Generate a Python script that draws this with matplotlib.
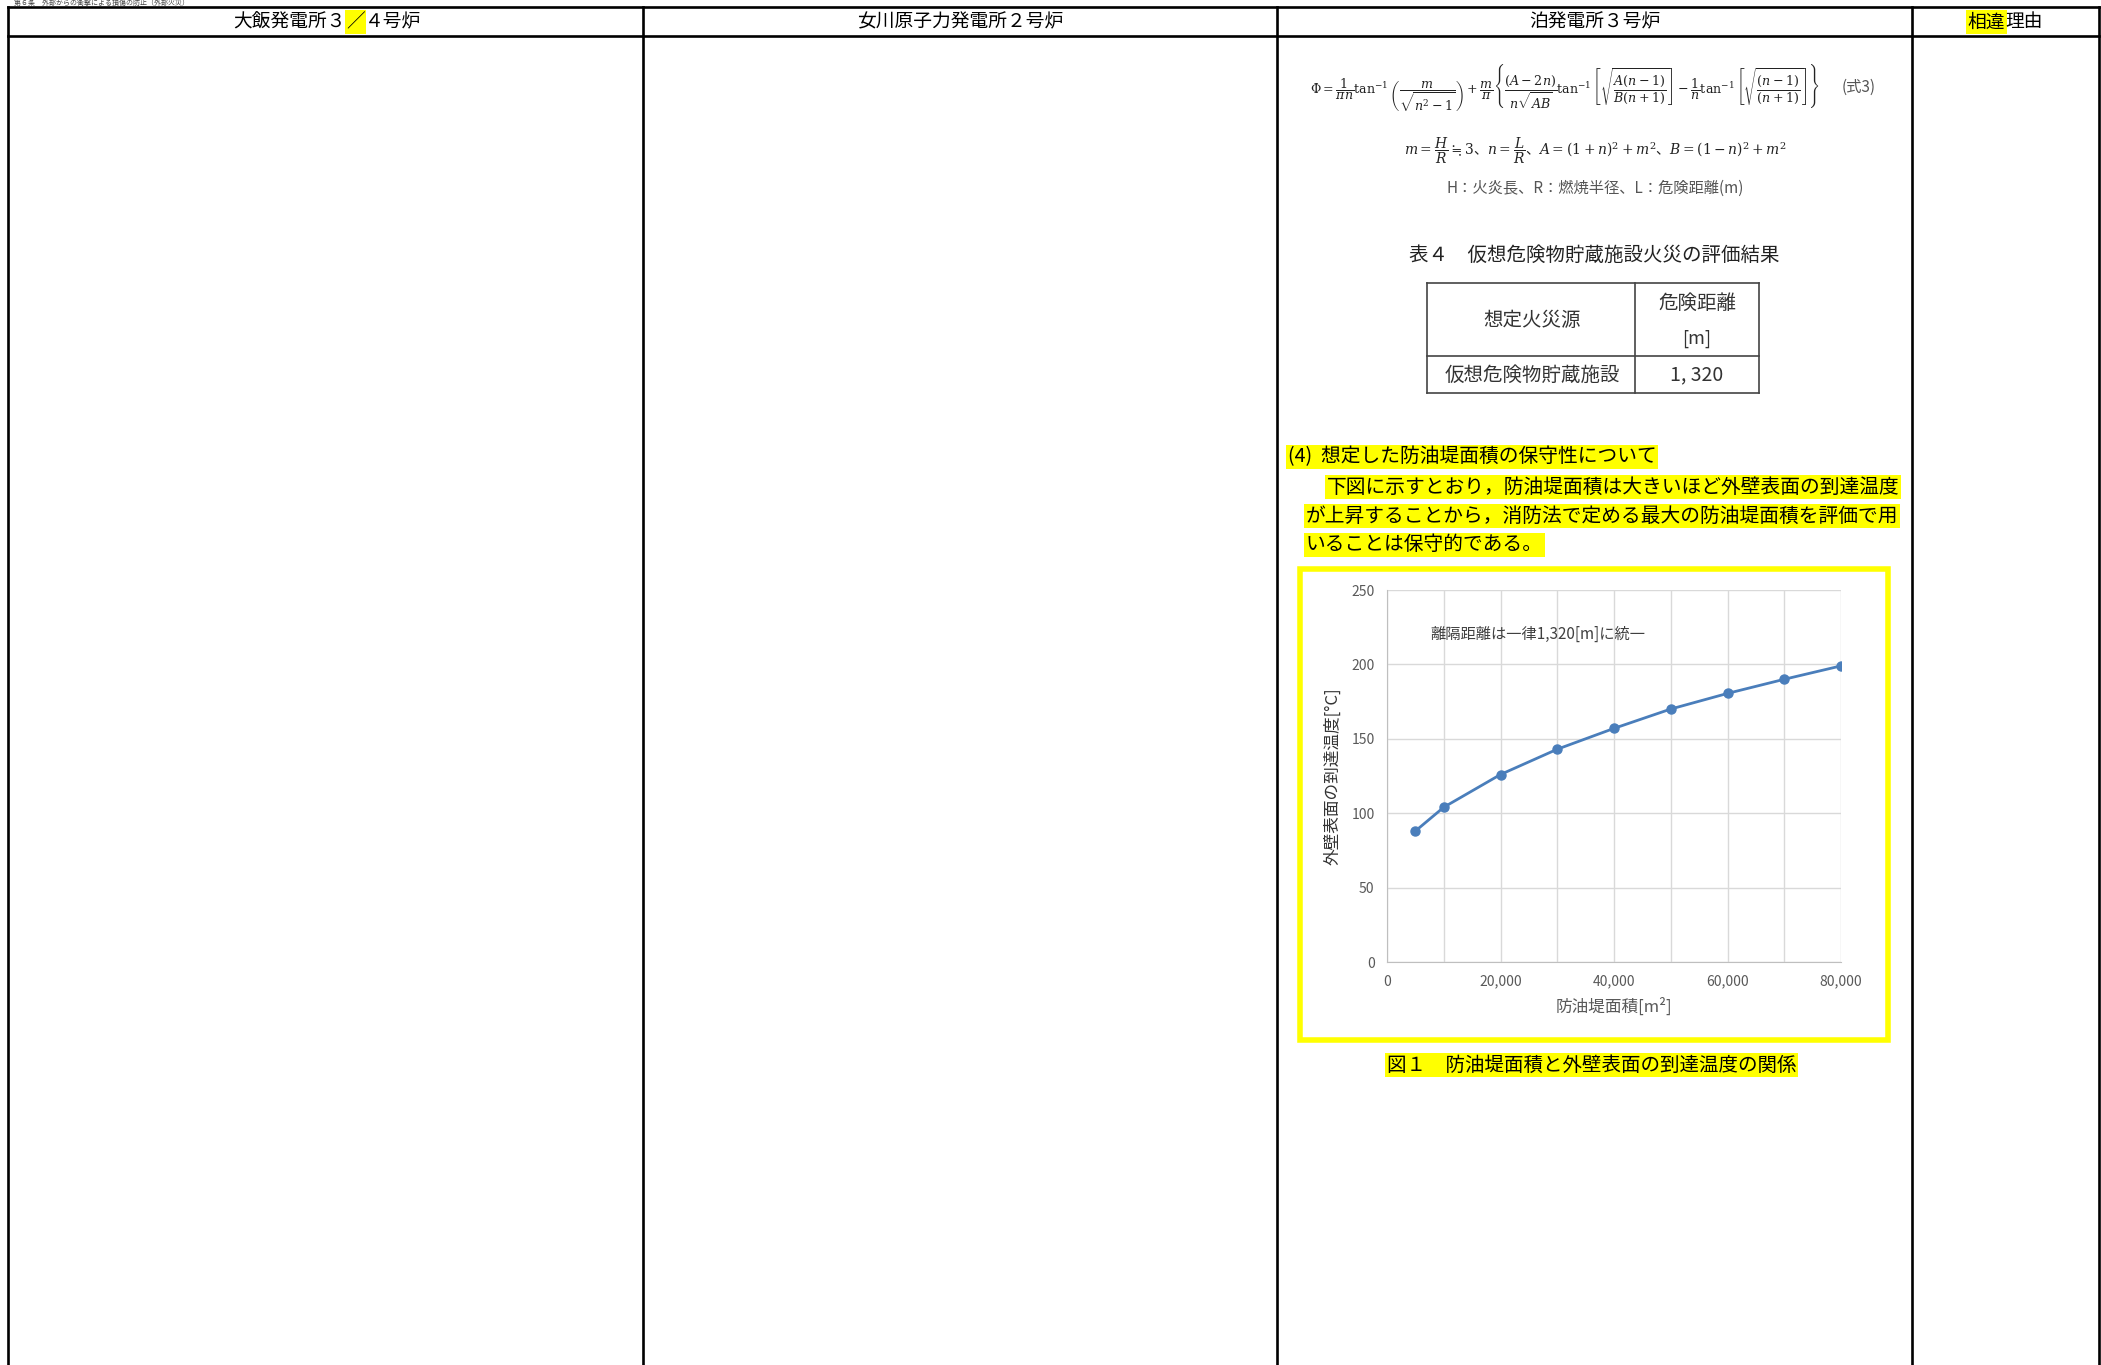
import matplotlib
matplotlib.use("Agg")
import matplotlib.pyplot as plt
from matplotlib.patches import Rectangle
from matplotlib.ticker import FuncFormatter

plt.rcParams['font.family'] = ['Noto Sans CJK JP', 'DejaVu Sans']
plt.rcParams['mathtext.fontset'] = 'custom'
plt.rcParams['mathtext.rm'] = 'DejaVu Serif'
plt.rcParams['mathtext.it'] = 'DejaVu Serif:italic'
plt.rcParams['mathtext.bf'] = 'DejaVu Serif:bold'
plt.rcParams['mathtext.sf'] = 'Noto Sans CJK JP'

# data
area = [5000, 10000, 20000, 30000, 40000, 50000, 60000, 70000, 80000]   # 防油堤面積 [m2]
temp = [88, 104, 126, 143, 157, 170, 180.5, 190, 199]                      # 到達温度 [C]
x_ticks = [0, 10000, 20000, 30000, 40000, 50000, 60000, 70000, 80000]
y_ticks = [0, 50, 100, 150, 200, 250]

headers = ["女川原子力発電所２号炉", "泊発電所３号炉"]
table_title = "表４　仮想危険物貯蔵施設火災の評価結果"
table_cells = ["想定火災源", "危険距離", "[m]", "仮想危険物貯蔵施設", "1, 320"]
body_lines = ["(4)  想定した防油堤面積の保守性について",
              "下図に示すとおり，防油堤面積は大きいほど外壁表面の到達温度",
              "が上昇することから，消防法で定める最大の防油堤面積を評価で用",
              "いることは保守的である。"]
caption = "図１　防油堤面積と外壁表面の到達温度の関係"
note = "離隔距離は一律1,320[m]に統一"

W, H = 2101, 1365
fig = plt.figure(figsize=(W / 100, H / 100), dpi=100)

# page layer in pixel coords
bg = fig.add_axes([0, 0, 1, 1])
bg.set_xlim(0, W)
bg.set_ylim(H, 0)
bg.axis('off')

YEL = '#ffff00'
hl = dict(boxstyle='square,pad=0.08', fc=YEL, ec='none')

# page title squeezed above the table
bg.text(14, 3.2, "第６条　外部からの衝撃による損傷の防止（外部火災）", fontsize=5,
        color='#444444', va='center', ha='left')

# comparison table frame
lw_tab = 1.9
for x in [8, 643, 1277, 1912, 2099]:
    bg.plot([x, x], [7, H + 5], color='black', lw=lw_tab, clip_on=False)
bg.plot([8, 2099], [7, 7], color='black', lw=lw_tab)
bg.plot([8, 2099], [36, 36], color='black', lw=lw_tab)

hy = 22
hfs = 13.5
bg.text(346, hy, "大飯発電所３", fontsize=hfs, ha='right', va='center')
bg.text(355.5, hy, "／", fontsize=hfs, ha='center', va='center', bbox=hl)
bg.text(365, hy, "４号炉", fontsize=hfs, ha='left', va='center')
bg.text(960, hy, headers[0], fontsize=hfs, ha='center', va='center')
bg.text(1595, hy, headers[1], fontsize=hfs, ha='center', va='center')
bg.text(2005, hy, "相違", fontsize=hfs, ha='right', va='center', bbox=hl)
bg.text(2005, hy, "理由", fontsize=hfs, ha='left', va='center')

# formula block
f1 = (r'$\Phi=\dfrac{1}{\pi n}\tan^{-1}\left(\dfrac{m}{\sqrt{n^2-1}}\right)+\dfrac{m}{\pi}'
      r'\left\{\dfrac{(A-2n)}{n\sqrt{AB}}\tan^{-1}\left[\sqrt{\dfrac{A(n-1)}{B(n+1)}}\right]'
      r'-\dfrac{1}{n}\tan^{-1}\left[\sqrt{\dfrac{(n-1)}{(n+1)}}\right]\right\}$')
bg.text(1310, 87, f1, fontsize=9.1, ha='left', va='center', color='#222222')
bg.text(1842, 87, "(式3)", fontsize=11, ha='left', va='center', color='#555555')
f2 = (r'$m=\dfrac{H}{R}\;\mathsf{≒}\;3\mathsf{、}n=\dfrac{L}{R}\mathsf{、}A=(1+n)^2+m^2'
      r'\mathsf{、}B=(1-n)^2+m^2$')
bg.text(1595, 151, f2, fontsize=10, ha='center', va='center', color='#222222')
bg.text(1595, 188, "H：火炎長、R：燃焼半径、L：危険距離(m)", fontsize=11,
        ha='center', va='center', color='#555555')

# result table
bg.text(1594, 255, table_title, fontsize=14, ha='center', va='center', color='#222222')
tc = '#444444'
for x in [1427, 1635, 1759]:
    bg.plot([x, x], [283, 393], color=tc, lw=1.2)
for y in [283, 356, 393]:
    bg.plot([1427, 1759], [y, y], color=tc, lw=1.2)
bg.text(1532, 320, table_cells[0], fontsize=14, ha='center', va='center', color='#333333')
bg.text(1697, 303, table_cells[1], fontsize=14, ha='center', va='center', color='#333333')
bg.text(1697, 339, table_cells[2], fontsize=13, ha='center', va='center', color='#333333')
bg.text(1532, 375, table_cells[3], fontsize=14, ha='center', va='center', color='#333333')
bg.text(1697, 375, table_cells[4], fontsize=14, ha='center', va='center', color='#333333')

# highlighted body text
bfs = 14.2
bg.text(1288, 457, body_lines[0], fontsize=bfs, ha='left', va='center', bbox=hl)
bg.text(1327, 487, body_lines[1], fontsize=bfs, ha='left', va='center', bbox=hl)
bg.text(1306, 516, body_lines[2], fontsize=bfs, ha='left', va='center', bbox=hl)
bg.text(1306, 545, body_lines[3], fontsize=bfs, ha='left', va='center', bbox=hl)

# yellow frame around chart + caption
bg.add_patch(Rectangle((1300, 569), 588, 471, fill=False, ec=YEL, lw=4))
bg.text(1387, 1065, caption, fontsize=14, ha='left', va='center', bbox=hl)

# the chart itself
ax = fig.add_axes([1387 / W, 1 - 962 / H, 454 / W, 372 / H])
ax.plot(area, temp, color='#4a7ebb', lw=2, marker='o', ms=6.5, zorder=3)
ax.set_xlim(0, 80000)
ax.set_ylim(0, 250)
ax.set_xticks(x_ticks)
ax.set_yticks(y_ticks)
ax.xaxis.set_major_formatter(FuncFormatter(lambda v, p: f"{int(v):,}" if v % 20000 == 0 else ""))
ax.grid(True, color='#d9d9d9', lw=1)
ax.set_axisbelow(True)
for s in ['top', 'right']:
    ax.spines[s].set_visible(False)
for s in ['left', 'bottom']:
    ax.spines[s].set_color('#bfbfbf')
ax.tick_params(length=0, pad=9, labelsize=10, labelcolor='#595959')
ax.set_xlabel("防油堤面積[m²]", fontsize=12, color='#595959')
ax.set_ylabel("外壁表面の到達温度[°C]", fontsize=12, color='#333333')
ax.xaxis.set_label_coords(0.5, -0.095)
ax.yaxis.set_label_coords(-0.10, 0.5)
ax.text(7700, 220, note, fontsize=11, color='#404040', va='center', ha='left')

fig.savefig("out.png", dpi=100)
